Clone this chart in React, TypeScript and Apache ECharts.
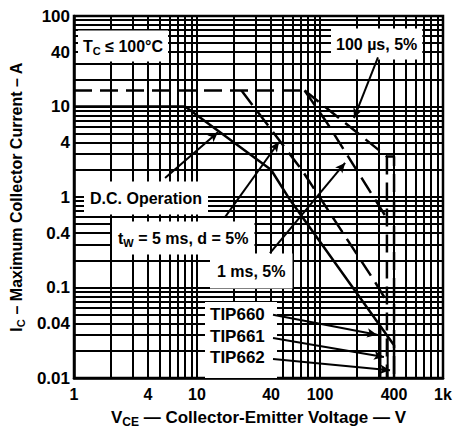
import React, { useEffect, useRef } from "react";
import * as echarts from "echarts";

// ---- grid / tick values ----
const xGridValues = [1, 2, 3, 4, 5, 6, 7, 8, 9, 10, 20, 30, 40, 50, 60, 70, 80, 90, 100, 200, 300, 400, 500, 600, 700, 800, 900, 1000];
const yGridValues = [0.01, 0.02, 0.03, 0.04, 0.05, 0.06, 0.07, 0.08, 0.09, 0.1, 0.2, 0.3, 0.4, 0.5, 0.6, 0.7, 0.8, 0.9, 1, 2, 3, 4, 5, 6, 7, 8, 9, 10, 20, 30, 40, 50, 60, 70, 80, 90, 100];
const xLabelValues = [1, 4, 10, 40, 100, 400, 1000];
const xLabelTexts = ["1", "4", "10", "40", "100", "400", "1k"];
const yLabelValues = [0.01, 0.04, 0.1, 0.4, 1, 4, 10, 40, 100];
const yLabelTexts = ["0.01", "0.04", "0.1", "0.4", "1", "4", "10", "40", "100"];

// ---- curves (V, A) ----
const dcOperation = [[1, 10], [8, 10], [30, 2.67], [40, 2.0], [57, 0.93], [400, 0.023], [400, 0.01]];
const tip660Limit = [[310, 0.037], [310, 0.01]];
const tip661Limit = [[355, 0.029], [355, 0.01]];
const pulseCommon = [[1, 15], [75, 15]];
const pulse100us = [[75, 15], [350, 2.8], [400, 2.8], [400, 0.01]];
const pulse100usB = [[350, 2.8], [350, 0.01]];
const pulse1ms = [[75, 15], [114, 6.6], [350, 0.58]];
const pulse5ms = [[23, 15], [71, 2.0], [280, 0.115], [350, 0.07]];

// ---- annotation arrows (from, to) in data space ----
const arrowDC = [[5.5, 1.62], [14.8, 5.2]];
const arrow5ms = [[16.9, 0.6], [46.4, 4.05]];
const arrow1ms = [[39.2, 0.24], [160, 2.38]];
const arrow100us = [[296, 35], [189, 7.46]];
const arrowTip660 = [[41.5, 0.05], [291, 0.03]];
const arrowTip661 = [[41.5, 0.0277], [331, 0.0171]];
const arrowTip662 = [[41.5, 0.0162], [371, 0.0122]];

const FONT = "'Liberation Sans', Arial, Helvetica, sans-serif";

function lookup(values: number[], texts: string[], v: number) {
  const i = values.findIndex((x) => Math.abs(x - v) / x < 1e-6);
  return i >= 0 ? texts[i] : "";
}

const rich = (size: number, lh: number) => ({
  n: { fontFamily: FONT, fontWeight: "bold", fontSize: size, color: "#000", lineHeight: lh },
  s: { fontFamily: FONT, fontWeight: "bold", fontSize: Math.round(size * 0.7), color: "#000", verticalAlign: "bottom" },
});

// x, y: left edge and vertical centre of the text itself
function label(text: string, x: number, y: number, pad: number, size = 16) {
  return {
    type: "text",
    x: x - pad,
    y,
    z: 1,
    silent: true,
    style: {
      text,
      rich: rich(size, size + 5),
      fill: "#000",
      font: `bold ${size}px ${FONT}`,
      verticalAlign: "middle",
      align: "left",
      backgroundColor: "#fff",
      padding: [pad, pad, pad, pad],
    },
  };
}

function curve(name: string, data: number[][], dashed: boolean, width = 2.5) {
  return {
    name,
    type: "line",
    data,
    symbol: "none",
    silent: true,
    lineStyle: { color: "#000", width, type: dashed ? [18, 8] : "solid", dashOffset: 0 },
    z: 3,
  };
}

export default function App() {
  const ref = useRef<HTMLDivElement>(null);
  useEffect(() => {
    const chart = echarts.init(ref.current!, null, { renderer: "svg" });
    const arrows = [arrowDC, arrow5ms, arrow1ms, arrow100us, arrowTip660, arrowTip661, arrowTip662];
    chart.setOption({
      animation: false,
      backgroundColor: "#fff",
      grid: {
        left: 74,
        right: 13,
        top: 16,
        bottom: 55,
        show: true,
        borderColor: "#000",
        borderWidth: 2.5,
        backgroundColor: "#fff",
        outerBoundsMode: "none",
      },
      xAxis: {
        type: "log",
        logBase: 10,
        min: 1,
        max: 1000,
        axisLine: { show: true, lineStyle: { color: "#000", width: 2.5 } },
        axisTick: { show: false, customValues: xGridValues },
        splitLine: { show: true, lineStyle: { color: "#000", width: 2 } },
        minorTick: { show: false },
        axisLabel: {
          customValues: xLabelValues,
          formatter: (v: number) => lookup(xLabelValues, xLabelTexts, v),
          color: "#000",
          fontFamily: FONT,
          fontWeight: "bold",
          fontSize: 16,
          margin: 8,
        },
        name: "{n|V}{s|CE}{n| — Collector-Emitter Voltage — V}",
        nameLocation: "middle",
        nameGap: 28,
        nameTextStyle: { rich: rich(17, 22) },
      },
      yAxis: {
        type: "log",
        logBase: 10,
        min: 0.01,
        max: 100,
        axisLine: { show: true, lineStyle: { color: "#000", width: 2.5 } },
        axisTick: { show: false, customValues: yGridValues },
        splitLine: { show: true, lineStyle: { color: "#000", width: 2 } },
        axisLabel: {
          customValues: yLabelValues,
          formatter: (v: number) => lookup(yLabelValues, yLabelTexts, v),
          color: "#000",
          fontFamily: FONT,
          fontWeight: "bold",
          fontSize: 17,
          margin: 4,
        },
        name: "{n|I}{s|C}{n| – Maximum Collector Current – A}",
        nameLocation: "middle",
        nameGap: 43,
        nameTextStyle: { rich: rich(16, 20) },
      },
      graphic: [
        label("{n|T}{s|C}{n| ≤ 100°C}", 83, 46, 5, 16),
        label("{n|100 µs, 5%}", 336, 44, 5, 16),
        label("{n|D.C. Operation}", 90, 198, 6, 16),
        label("{n|t}{s|W}{n| = 5 ms, d = 5%}", 118, 238, 6, 16),
        label("{n|1 ms, 5%}", 217, 271, 7, 16),
        {
          type: "rect",
          z: 1,
          silent: true,
          shape: { x: 205, y: 302, width: 72, height: 76 },
          style: { fill: "#fff" },
        },
        label("{n|TIP660}", 210, 314, 0, 17),
        label("{n|TIP661}", 210, 336, 0, 17),
        label("{n|TIP662}", 210, 357, 0, 17),
      ],
      series: [
        curve("D.C. Operation", dcOperation, false),
        curve("TIP660", tip660Limit, false, 2),
        curve("TIP661", tip661Limit, false, 2),
        curve("Pulse limit", pulseCommon, true),
        curve("100 µs, 5%", pulse100us, true),
        curve("100 µs, 5% (TIP661)", pulse100usB, true),
        curve("1 ms, 5%", pulse1ms, true),
        curve("5 ms, 5%", pulse5ms, true),
        {
          name: "arrows",
          type: "line",
          data: [],
          silent: true,
          z: 4,
          markLine: {
            silent: true,
            symbol: ["none", "arrow"],
            symbolSize: [7, 10],
            label: { show: false },
            lineStyle: { color: "#000", width: 2, type: "solid" },
            emphasis: { disabled: true },
            data: arrows.map((a) => [{ coord: a[0] }, { coord: a[1] }]),
          },
        },
      ],
    });
    return () => chart.dispose();
  }, []);
  return (
    <div
      ref={ref}
      style={{ position: "fixed", left: 0, top: 0, width: 456, height: 433, background: "#fff" }}
    />
  );
}
